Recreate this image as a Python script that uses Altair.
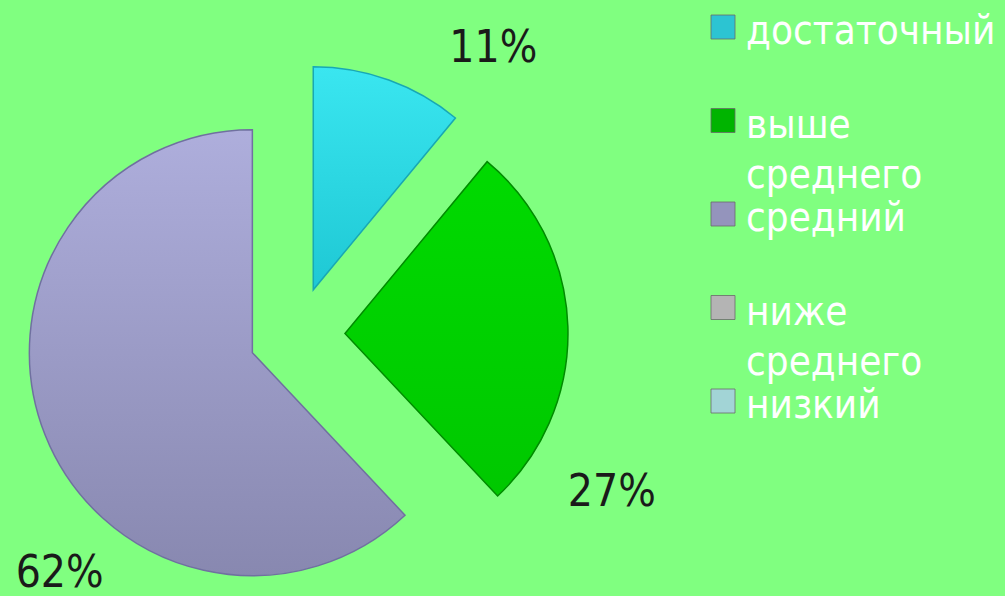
import math
import altair as alt
import pandas as pd

# ---- data ----
categories = ["достаточный", "выше среднего", "средний", "ниже среднего", "низкий"]
shares = [11, 27, 62, 0, 0]
labels = ["11%", "27%", "62%", "", ""]
legend_colors = ["#2CC4D2", "#00B400", "#9494BC", "#B4B4B4", "#A2D4D6"]

# ---- layout / style ----
W, H = 1005, 596
CX, CY = 297, 335
EXPLODE = 48
R = 223
R_LABEL = 260
FONT = "DejaVu Sans Condensed, DejaVu Sans"

slice_style = {
    "достаточный": dict(top="#3AE6F0", bot="#1EC8D4", stroke="#18A8B4", dx=92, dy=4),
    "выше среднего": dict(top="#00DA00", bot="#00C800", stroke="#008C00", dx=7, dy=168),
    "средний": dict(top="#AEAEDC", bot="#8888B0", stroke="#7070A0", dx=49, dy=126),
}

df = pd.DataFrame({"cat": categories, "share": shares, "label": labels,
                   "order": list(range(len(categories)))})

base = (
    alt.Chart(df)
    .transform_filter("datum.share > 0")
    .transform_window(cum="sum(share)", sort=[alt.SortField("order", order="ascending")])
    .transform_calculate(start="datum.cum - datum.share",
                         mid="datum.cum - datum.share / 2")
    .transform_calculate(ang="datum.mid / 100 * 2 * PI")
    .transform_calculate(ex=f"{EXPLODE} * sin(datum.ang)",
                         ey=f"{EXPLODE} * cos(datum.ang)")
)

xenc = alt.X("ex:Q", scale=alt.Scale(domain=[-CX, W - CX], nice=False, zero=False), axis=None)
yenc = alt.Y("ey:Q", scale=alt.Scale(domain=[CY - H, CY], nice=False, zero=False), axis=None)
theta_scale = alt.Scale(domain=[0, 100], range=[0, 2 * math.pi])

layers = []
for name, st in slice_style.items():
    grad = alt.Gradient(
        gradient="linear",
        stops=[alt.GradientStop(color=st["top"], offset=0),
               alt.GradientStop(color=st["bot"], offset=1)],
        x1=0, y1=0, x2=0, y2=1,
    )
    arc = (
        base.transform_filter(alt.datum.cat == name)
        .mark_arc(outerRadius=R, fill=grad, stroke=st["stroke"], strokeWidth=1.5)
        .encode(theta=alt.Theta("start:Q", scale=theta_scale, stack=None),
                theta2="cum:Q", x=xenc, y=yenc)
    )
    layers.append(arc)

for name, st in slice_style.items():
    txt = (
        base.transform_filter(alt.datum.cat == name)
        .mark_text(radius=R_LABEL, dx=st["dx"], dy=st["dy"], fontSize=44, font=FONT,
                   color="#1A1A1A", align="center", baseline="middle")
        .encode(theta=alt.Theta("mid:Q", scale=theta_scale, stack=None),
                x=xenc, y=yenc, text="label:N")
    )
    layers.append(txt)

# ---- manual legend ----
leg_df = pd.DataFrame({"cat": categories})
leg_y = alt.Y("cat:N", sort=categories,
              scale=alt.Scale(domain=categories, range=[27, 401], padding=0), axis=None)
symbols = (
    alt.Chart(leg_df)
    .mark_square(size=576, opacity=1, filled=True, stroke="#6A6A6A", strokeWidth=0.8)
    .encode(x=alt.value(723), y=leg_y,
            color=alt.Color("cat:N", scale=alt.Scale(domain=categories, range=legend_colors),
                            legend=None))
)
leg_text = (
    alt.Chart(leg_df)
    .transform_calculate(lines="split(datum.cat, ' ')")
    .mark_text(align="left", baseline="middle", dy=5, fontSize=40, font=FONT,
               color="white", lineHeight=50)
    .encode(x=alt.value(746), y=leg_y, text="lines:N")
)
layers += [symbols, leg_text]

chart = (
    alt.layer(*layers)
    .resolve_scale(x="independent", y="independent")
    .properties(width=W, height=H, background="#80FF80", padding=0,
                autosize=alt.AutoSizeParams(type="none"))
    .configure_view(stroke=None)
)

chart.save("out.html", embed_options={"renderer": "svg", "actions": False})
